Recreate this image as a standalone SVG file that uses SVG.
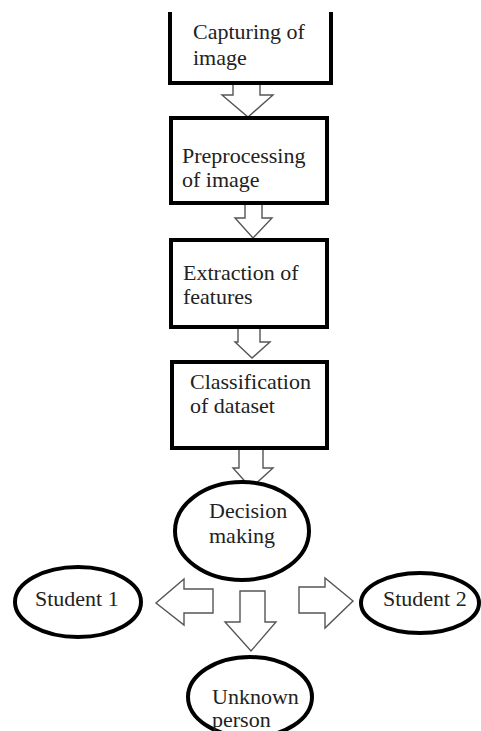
<svg xmlns="http://www.w3.org/2000/svg" width="481" height="731" viewBox="0 0 481 731">
  <style>
    .box { fill: #fff; stroke: #000; stroke-width: 4; }
    .oval { fill: #fff; stroke: #000; stroke-width: 4; }
    .blk { fill: #fff; stroke: #555; stroke-width: 1.4; stroke-linejoin: miter; }
    .lbl { font-size: 22px; fill: #222; }
  </style>
  <rect width="481" height="731" fill="#fff"/>

  <!-- block arrows -->
  <g id="connectors">
    <polygon class="blk" points="233,83 260,83 260,95 273,95 248,117 222,95 233,95"/>
    <polygon class="blk" points="245,203 262,203 262,218 272,218 253,238 235,218 245,218"/>
    <polygon class="blk" points="238,327 260,327 260,342 270,342 252,358 235,342 238,342"/>
    <polygon class="blk" points="239,448 263,448 263,468 273,468 251,488 233,468 239,468"/>
    <!-- to Student 1 -->
    <polygon class="blk" points="213,589 213,613 184,613 184,625 156,603 184,579 184,589"/>
    <!-- to Student 2 -->
    <polygon class="blk" points="299,587 325,587 325,578 353,601 325,628 325,613 299,613"/>
    <!-- to Unknown person -->
    <polygon class="blk" points="240,591 265,591 265,622 276,622 251,651 225,622 240,622"/>
  </g>

  <g font-family="Liberation Serif">
    <g id="capture">
      <path class="box" d="M170,12 V83 H331 V12"/>
      <text class="lbl" x="193" y="39">Capturing of</text>
      <text class="lbl" x="193" y="65">image</text>
    </g>

    <g id="preprocess">
      <rect class="box" x="171" y="118" width="156" height="85"/>
      <text class="lbl" x="182" y="163">Preprocessing</text>
      <text class="lbl" x="182" y="187">of image</text>
    </g>

    <g id="extract">
      <rect class="box" x="171" y="240" width="156" height="87"/>
      <text class="lbl" x="183" y="280">Extraction of</text>
      <text class="lbl" x="183" y="304">features</text>
    </g>

    <g id="classify">
      <rect class="box" x="172" y="362" width="155" height="86"/>
      <text class="lbl" x="190" y="389">Classification</text>
      <text class="lbl" x="190" y="413">of dataset</text>
    </g>

    <g id="decision">
      <ellipse class="oval" cx="242" cy="531" rx="67" ry="49"/>
      <text class="lbl" x="209" y="518">Decision</text>
      <text class="lbl" x="209" y="543">making</text>
    </g>

    <g id="student1">
      <ellipse class="oval" cx="78" cy="602" rx="63" ry="35"/>
      <text class="lbl" x="35" y="606">Student 1</text>
    </g>

    <g id="student2">
      <ellipse class="oval" cx="420" cy="603" rx="59" ry="30"/>
      <text class="lbl" x="383" y="606">Student 2</text>
    </g>

    <g id="unknown">
      <ellipse class="oval" cx="250" cy="697" rx="62" ry="40"/>
      <text class="lbl" x="212" y="704">Unknown</text>
      <text class="lbl" x="212" y="727">person</text>
    </g>
  </g>
</svg>
